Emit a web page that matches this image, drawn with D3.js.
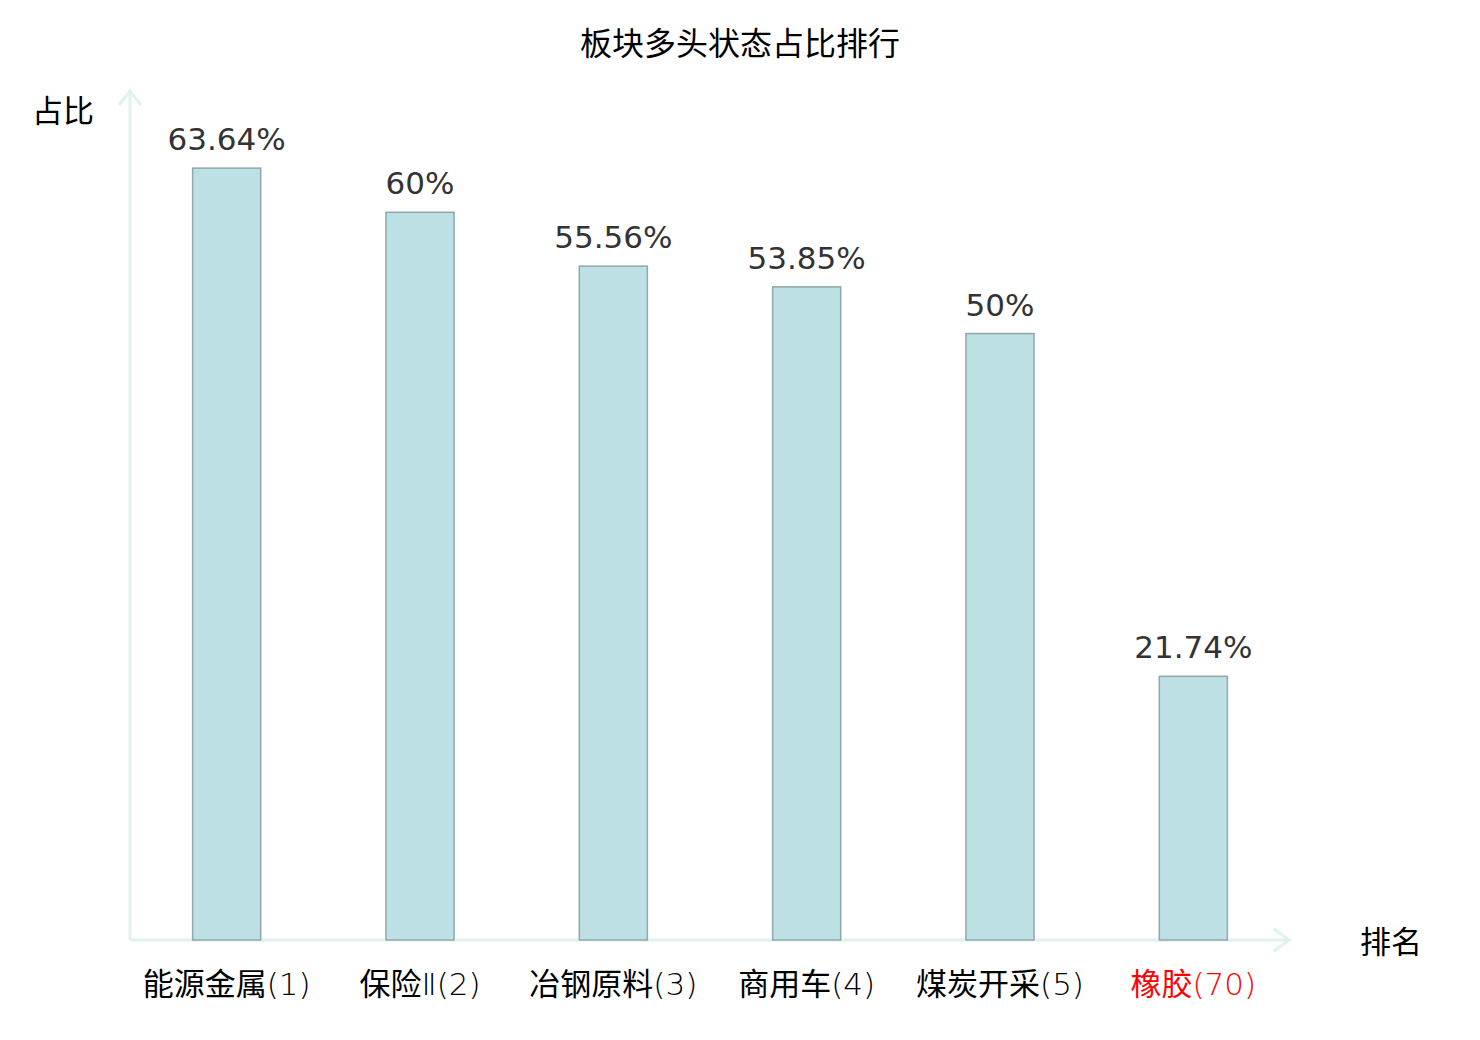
<!DOCTYPE html>
<html><head><meta charset="utf-8">
<script src="https://cdn.jsdelivr.net/npm/d3@7/dist/d3.min.js"></script>
<style>
html,body{margin:0;padding:0;background:#fff;}
svg text{font-family:"DejaVu Sans","Noto Sans CJK SC",sans-serif;}
</style></head>
<body>
<svg id="chart" width="1480" height="1040"></svg>
<script>
const categories = ["能源金属(1)", "保险Ⅱ(2)", "冶钢原料(3)", "商用车(4)", "煤炭开采(5)", "橡胶(70)"];
const values = [63.64, 60, 55.56, 53.85, 50, 21.74];
const valueLabels = ["63.64%", "60%", "55.56%", "53.85%", "50%", "21.74%"];
const highlight = [false, false, false, false, false, true];
const title = "板块多头状态占比排行";
const yName = "占比";
const xName = "排名";

const svg = d3.select("#chart");
const x0 = 130, x1 = 1290, yBase = 940, yTop = 91;
const x = d3.scaleBand().domain(categories).range([x0, x1]).padding(0);
const y = d3.scaleLinear().domain([0, 70]).range([yBase, yTop]);
const barW = x.bandwidth() * 0.352;
const cjk = '"Noto Sans CJK SC",sans-serif';

svg.append("text").attr("x", 740).attr("y", 55).attr("text-anchor", "middle")
  .attr("font-size", 32).attr("fill", "#000").style("font-family", cjk).text(title);

const axisColor = "#dff2ef";
svg.append("line").attr("x1", x0).attr("x2", x0).attr("y1", yBase).attr("y2", 90)
  .attr("stroke", axisColor).attr("stroke-width", 3);
svg.append("path").attr("d", `M${x0-11},${105} L${x0},${91} L${x0+11},${105}`)
  .attr("fill", "none").attr("stroke", axisColor).attr("stroke-width", 3);
svg.append("line").attr("x1", x0).attr("x2", 1289).attr("y1", yBase).attr("y2", yBase)
  .attr("stroke", axisColor).attr("stroke-width", 3);
svg.append("path").attr("d", `M${1274},${929} L${1289},${yBase} L${1274},${951}`)
  .attr("fill", "none").attr("stroke", axisColor).attr("stroke-width", 3);

svg.append("text").attr("x", 63).attr("y", 122).attr("text-anchor", "middle")
  .attr("font-size", 31).attr("fill", "#000").style("font-family", cjk).text(yName);
svg.append("text").attr("x", 1391).attr("y", 953).attr("text-anchor", "middle")
  .attr("font-size", 31).attr("fill", "#000").style("font-family", cjk).text(xName);

const g = svg.append("g");
categories.forEach((c, i) => {
  const cx = x(c) + x.bandwidth() / 2;
  g.append("rect").attr("x", cx - barW / 2).attr("width", barW)
    .attr("y", y(values[i])).attr("height", yBase - y(values[i]))
    .attr("fill", "#bce0e3").attr("stroke", "#8fa8a9").attr("stroke-width", 1.5);
  g.append("text").attr("x", cx).attr("y", y(values[i]) - 18).attr("text-anchor", "middle")
    .attr("font-size", 31).attr("fill", "#333").text(valueLabels[i]);
  const t = g.append("text").attr("x", cx).attr("y", 995).attr("text-anchor", "middle")
    .attr("font-size", 31).attr("fill", highlight[i] ? "#ff0000" : "#000");
  const m = c.match(/^([\u4e00-\u9fff]+)(.*)$/);
  t.append("tspan").style("font-family", cjk).text(m[1]);
  t.append("tspan").attr("font-weight", 200).text(m[2]);
});
</script>
</body></html>
